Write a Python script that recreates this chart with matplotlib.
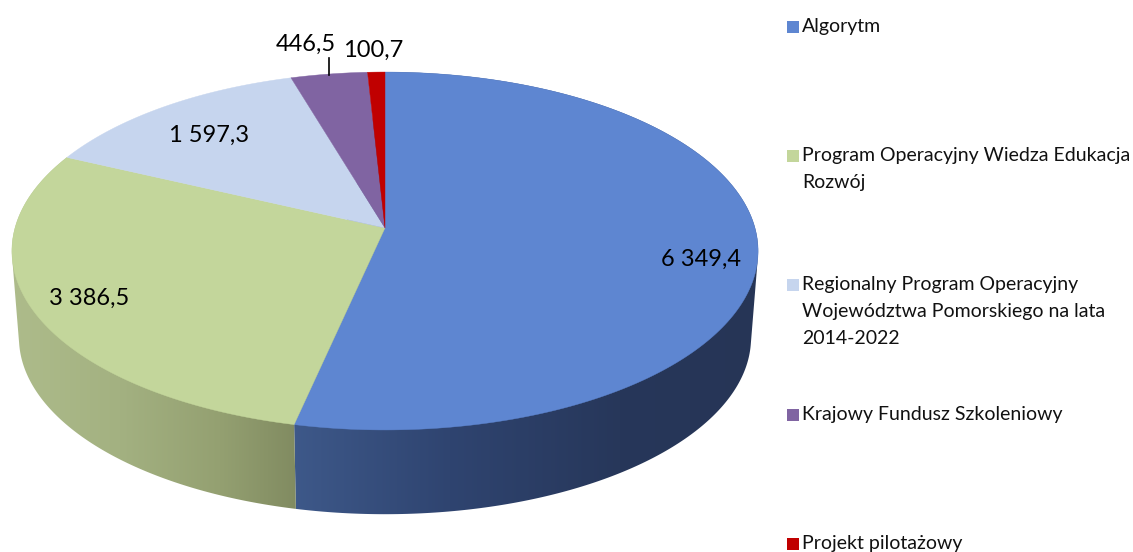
import numpy as np
import matplotlib
matplotlib.use("Agg")
import matplotlib.pyplot as plt
from matplotlib.patches import Rectangle, Polygon

categories = ["Algorytm",
              "Program Operacyjny Wiedza Edukacja\nRozwój",
              "Regionalny Program Operacyjny\nWojewództwa Pomorskiego na lata\n2014-2022",
              "Krajowy Fundusz Szkoleniowy",
              "Projekt pilotażowy"]
values = [6349.4, 3386.5, 1597.3, 446.5, 100.7]
value_labels = ["6 349,4", "3 386,5", "1 597,3", "446,5", "100,7"]
colors = ["#5E86D1", "#C3D69B", "#C6D5EE", "#8064A2", "#C00000"]

plt.rcParams["font.family"] = ["Lato", "DejaVu Sans"]

fig = plt.figure(figsize=(11.33, 5.52), dpi=100)
ax = fig.add_axes([0, 0, 1, 1])
ax.set_xlim(0, 1133)
ax.set_ylim(552, 0)
ax.axis("off")

# perspective circle, angle measured clockwise from 12 o'clock
k = 0.1285
def rim(phi, cx, cy, a, b):
    d = 1 + k * np.cos(phi)
    return cx + a * np.sin(phi) / d, cy - b * np.cos(phi) / d

def hull(points):
    pts = sorted(set(map(tuple, points)))
    def half(seq):
        out = []
        for p in seq:
            while len(out) > 1 and ((out[-1][0] - out[-2][0]) * (p[1] - out[-2][1])
                                    - (out[-1][1] - out[-2][1]) * (p[0] - out[-2][0])) <= 0:
                out.pop()
            out.append(p)
        return out[:-1]
    return half(pts) + half(pts[::-1])

top = (385, 228, 370, 176)
bottom = (385, 315, 363, 173.6)

edges = np.radians(np.concatenate([[0], np.cumsum(values)]) / sum(values) * 360)

# side wall, shaded by x position
blue_x = [290, 450, 620, 760]
blue_rgb = [(62, 89, 138), (47, 68, 112), (39, 55, 90), (38, 53, 86)]
green_x = [10, 120, 220, 296]
green_rgb = [(174, 188, 139), (163, 177, 129), (148, 160, 113), (129, 139, 97)]

grid = np.arange(0, 1133)
for i, (xs, rgbs) in enumerate([(blue_x, blue_rgb), (green_x, green_rgb)]):
    phi = np.linspace(edges[i], edges[i + 1], 300)
    x1, y1 = rim(phi, *top)
    x2, y2 = rim(phi, *bottom)
    outline = Polygon(hull(np.c_[np.r_[x1, x2], np.r_[y1, y2]]), closed=True,
                      transform=ax.transData, fc="none", ec="none")
    ax.add_patch(outline)
    grad = np.array([[np.interp(grid, xs, [c[j] for c in rgbs]) / 255 for j in range(3)]])
    grad = np.transpose(grad, (0, 2, 1))
    im = ax.imshow(grad, extent=(0, 1133, 552, 0), aspect="auto", zorder=1 + i * 0.1,
                   interpolation="bilinear")
    im.set_clip_path(outline)
ax.set_xlim(0, 1133)
ax.set_ylim(552, 0)

# top face
for i, c in enumerate(colors):
    phi = np.linspace(edges[i], edges[i + 1], 200)
    x, y = rim(phi, *top)
    ax.fill(np.r_[top[0], x], np.r_[top[1], y], color=c, lw=0.3, zorder=2)

label_pos = [(701, 259), (89, 298), (209, 135), (306, 44), (373, 50)]
for lab, (x, y) in zip(value_labels, label_pos):
    ax.text(x, y, lab, fontsize=17, color="black", ha="center", va="center", zorder=4)
ax.plot([329, 329], [58, 75], color="black", lw=1.2, zorder=3)

legend_y = [26, 155, 284, 414, 543]
for name, c, y in zip(categories, colors, legend_y):
    ax.add_patch(Rectangle((787, y - 5), 12, 12, color=c, lw=0))
    ax.text(802, y - 8, name, fontsize=14, color="#111111", va="top", linespacing=1.7)

fig.savefig("out.png", dpi=100)
